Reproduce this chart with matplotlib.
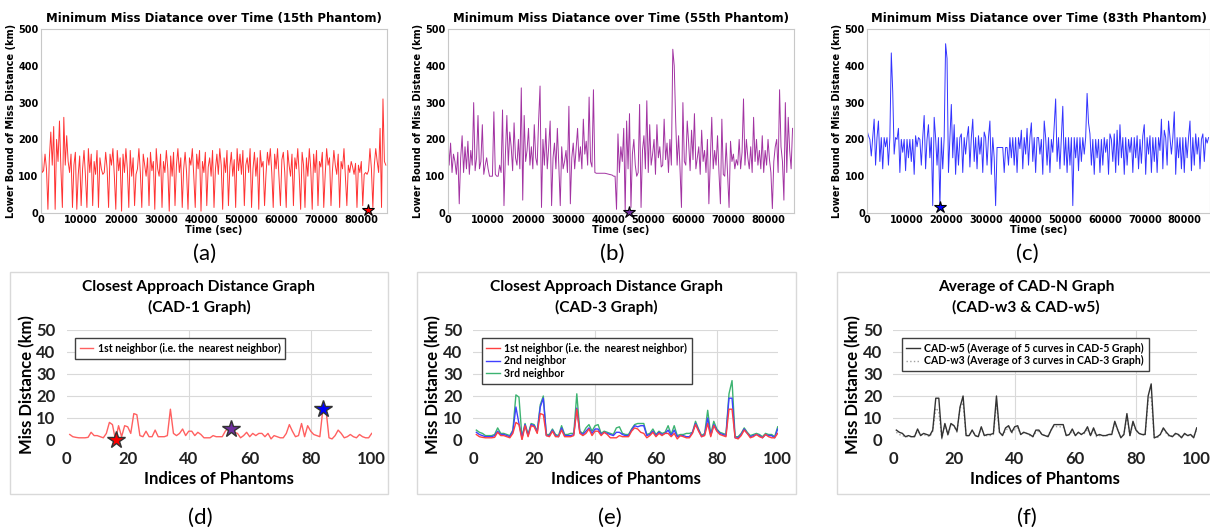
import numpy as np
import matplotlib.pyplot as plt
from matplotlib.patches import Rectangle

# ---- top row: minimum miss distance over time (one sample every 360 s) ----
TIME_STEP = 360

PHANTOM_15 = [
    250, 110, 115, 160, 120, 10, 150, 220, 130, 235, 10, 200, 140, 250, 120, 15, 260, 130, 210, 140,
    110, 160, 15, 130, 165, 10, 105, 155, 20, 120, 170, 100, 15, 175, 110, 160, 20, 140, 105, 170,
    15, 150, 120, 105, 110, 165, 120, 15, 160, 130, 175, 100, 10, 170, 115, 150, 5, 160, 110, 175,
    120, 15, 170, 100, 150, 20, 105, 120, 175, 110, 15, 160, 130, 100, 150, 20, 165, 115, 140, 10,
    175, 120, 100, 160, 15, 140, 110, 170, 120, 5, 155, 100, 165, 20, 130, 175, 110, 150, 15, 120,
    165, 110, 10, 150, 130, 175, 100, 15, 160, 120, 170, 5, 140, 110, 165, 20, 125, 150, 100, 170,
    15, 120, 160, 105, 175, 130, 10, 150, 110, 170, 20, 125, 165, 100, 145, 15, 175, 115, 160, 105,
    170, 20, 130, 150, 110, 175, 15, 120, 165, 100, 150, 10, 170, 125, 140, 20, 105, 165, 130, 175,
    110, 15, 160, 120, 175, 100, 20, 145, 165, 110, 15, 170, 130, 100, 160, 20, 150, 120, 175, 105,
    10, 165, 130, 15, 150, 100, 175, 120, 10, 160, 110, 170, 20, 140, 125, 165, 15, 105, 175, 130,
    150, 20, 115, 170, 130, 105, 160, 15, 140, 120, 175, 100, 20, 130, 110, 140, 125, 105, 135, 15,
    130, 110, 140, 20, 105, 110, 105, 115, 175, 120, 15, 130, 175, 140, 110, 230, 15, 310, 140, 130,
]

PHANTOM_55 = [
    235, 130, 190, 110, 160, 140, 105, 165, 25, 150, 210, 110, 180, 120, 195, 105, 170, 130, 300, 115,
    150, 265, 120, 140, 240, 105, 130, 150, 120, 100, 100, 100, 275, 105, 100, 100, 130, 110, 280, 20,
    160, 265, 130, 220, 180, 115, 245, 150, 130, 200, 120, 340, 35, 265, 140, 170, 230, 130, 180, 120,
    240, 150, 130, 250, 345, 15, 200, 130, 230, 120, 180, 250, 20, 150, 190, 120, 230, 130, 20, 180,
    120, 140, 170, 110, 290, 25, 150, 190, 120, 175, 230, 140, 180, 120, 255, 160, 195, 130, 315, 140,
    125, 335, 110, 108, 108, 108, 108, 108, 108, 108, 107, 106, 105, 104, 103, 100, 100, 10, 215, 110,
    180, 140, 230, 5, 250, 120, 270, 15, 160, 200, 130, 100, 110, 295, 15, 170, 210, 120, 305, 110,
    240, 130, 160, 200, 105, 240, 150, 180, 125, 130, 255, 145, 190, 110, 200, 130, 445, 400, 250, 130,
    210, 120, 15, 300, 140, 130, 250, 190, 115, 225, 145, 270, 120, 150, 180, 105, 225, 140, 170, 110,
    200, 25, 140, 260, 120, 170, 130, 210, 110, 25, 255, 105, 100, 190, 105, 15, 195, 140, 160, 120,
    145, 130, 200, 120, 165, 310, 130, 200, 150, 120, 180, 110, 260, 140, 200, 130, 170, 120, 210, 110,
    170, 130, 200, 145, 110, 12, 140, 180, 200, 110, 335, 180, 140, 35, 300, 110, 260, 170, 120, 230,
]

PHANTOM_83 = [
    225, 210, 200, 155, 205, 255, 130, 205, 250, 140, 205, 120, 205, 180, 205, 130, 205, 435, 330, 160,
    205, 200, 230, 110, 200, 165, 200, 115, 200, 150, 200, 140, 200, 105, 210, 180, 205, 200, 130, 205,
    265, 120, 200, 240, 150, 205, 20, 260, 205, 130, 205, 17, 205, 120, 205, 460, 420, 110, 200, 295,
    150, 240, 105, 205, 130, 205, 215, 110, 205, 160, 205, 235, 125, 205, 255, 140, 205, 120, 210, 160,
    205, 110, 220, 205, 130, 205, 250, 105, 205, 150, 20, 178, 178, 178, 178, 178, 110, 178, 178, 130,
    205, 150, 205, 130, 205, 110, 205, 175, 225, 120, 205, 160, 230, 130, 205, 245, 140, 205, 110, 205,
    205, 160, 200, 105, 250, 205, 130, 205, 110, 200, 165, 240, 310, 140, 205, 120, 205, 290, 130, 205,
    110, 205, 130, 205, 20, 205, 150, 205, 115, 205, 140, 205, 160, 205, 325, 245, 215, 130, 200, 105,
    200, 150, 200, 110, 200, 130, 205, 165, 200, 105, 215, 200, 140, 215, 110, 225, 130, 240, 150, 205,
    105, 205, 130, 200, 165, 205, 110, 205, 150, 210, 120, 200, 135, 210, 240, 105, 205, 160, 210, 110,
    205, 140, 205, 110, 205, 170, 255, 120, 225, 205, 130, 250, 205, 160, 205, 275, 105, 205, 150, 205,
    120, 205, 110, 205, 150, 205, 250, 115, 205, 130, 215, 160, 205, 120, 200, 215, 140, 205, 190, 205,
]

TOP_TITLES = ['Minimum Miss Diatance over Time (15th Phantom)',
              'Minimum Miss Diatance over Time (55th Phantom)',
              'Minimum Miss Diatance over Time (83th Phantom)']
TOP_COLORS = ['#ff0000', '#8b008b', '#0000ff']
STAR_COLORS = ['#ff0000', '#7030a0', '#0000ff']
STAR_POINTS = [(81500, 8), (45300, 3), (18500, 17)]

# ---- bottom row: closest approach distance graphs ----
PHANTOM_IDX = list(range(1, 101))

CAD1 = [2.5, 1.5, 1.2, 1.0, 1.0, 1.0, 1.2, 3.5, 2.0, 2.0,
        1.5, 1.0, 3.0, 8.0, 7.0, 0.0, 6.5, 1.5, 6.5, 6.0,
        3.0, 12.0, 11.5, 2.0, 1.5, 4.0, 1.5, 1.5, 4.5, 1.5,
        1.5, 1.5, 2.0, 14.0, 3.0, 2.0, 3.0, 5.0, 2.0, 4.0,
        4.0, 2.0, 3.5, 2.5, 1.0, 1.0, 1.0, 2.0, 1.5, 1.5,
        1.5, 4.0, 5.5, 5.0, 3.5, 3.0, 1.0, 2.0, 3.5, 1.5,
        3.0, 2.0, 3.0, 3.0, 1.5, 3.0, 0.5, 2.0, 1.5, 1.0,
        1.0, 3.0, 7.0, 4.0, 1.5, 2.0, 7.5, 1.5, 6.5, 4.0,
        2.5, 2.0, 1.5, 14.0, 14.0, 1.0, 0.5, 2.0, 4.5, 3.0,
        1.0, 1.5, 2.5, 1.5, 1.0, 2.5, 1.5, 1.0, 1.0, 3.0]

CAD2 = [3.5, 2.5, 2.0, 1.5, 1.5, 1.5, 2.0, 4.0, 2.5, 2.5,
        2.0, 1.5, 4.0, 15.0, 7.5, 1.0, 7.0, 2.0, 7.0, 6.5,
        3.5, 15.0, 19.0, 2.0, 2.0, 4.5, 2.0, 1.5, 5.5, 2.0,
        2.0, 2.0, 2.5, 14.5, 3.5, 2.5, 4.0, 5.5, 3.0, 5.0,
        5.0, 2.5, 3.5, 3.0, 2.5, 2.0, 3.5, 3.5, 2.5, 2.0,
        2.0, 4.5, 6.5, 6.0, 6.5, 6.5, 2.0, 2.5, 4.0, 2.0,
        3.5, 2.5, 3.0, 4.5, 2.0, 4.5, 1.5, 2.0, 2.0, 1.5,
        1.5, 3.5, 7.5, 4.5, 1.5, 2.5, 10.0, 2.0, 7.0, 4.5,
        3.0, 2.5, 2.0, 19.0, 19.0, 1.0, 1.0, 2.5, 5.0, 3.0,
        1.5, 2.0, 2.5, 2.0, 1.0, 2.5, 2.0, 2.0, 1.0, 5.0]

CAD3 = [4.5, 3.5, 3.0, 2.0, 2.0, 2.0, 2.5, 5.5, 3.0, 3.0,
        2.5, 2.0, 4.5, 20.5, 19.5, 1.0, 7.5, 2.5, 7.5, 7.0,
        4.0, 16.0, 20.0, 2.5, 2.5, 5.0, 2.5, 2.0, 6.5, 2.5,
        2.5, 3.0, 3.0, 21.0, 4.0, 3.0, 5.5, 7.0, 4.0, 6.5,
        7.0, 3.0, 4.0, 3.5, 3.0, 2.5, 5.5, 6.0, 3.0, 2.5,
        2.5, 5.0, 7.0, 7.5, 7.5, 7.5, 2.5, 3.0, 5.0, 2.5,
        4.0, 3.0, 3.5, 6.5, 2.5, 6.5, 2.0, 2.5, 2.5, 3.0,
        3.0, 3.5, 8.5, 5.0, 2.0, 3.0, 13.5, 2.5, 8.5, 5.0,
        3.5, 3.0, 2.5, 21.0, 27.0, 1.5, 1.5, 3.0, 5.5, 3.5,
        2.0, 2.5, 3.0, 2.5, 1.5, 3.0, 2.5, 2.5, 1.5, 6.0]

CAD_W5 = [4.5, 3.5, 3.0, 1.5, 2.0, 1.5, 1.5, 5.0, 2.0, 3.0,
          2.5, 2.0, 4.5, 19.0, 19.0, 1.0, 7.5, 2.5, 7.5, 6.5,
          4.0, 15.0, 20.0, 2.0, 2.0, 4.5, 2.0, 1.5, 6.0, 2.0,
          2.5, 2.5, 3.0, 20.0, 3.5, 2.0, 5.5, 6.5, 3.5, 6.0,
          6.5, 2.5, 3.5, 3.0, 2.5, 1.5, 4.5, 4.5, 2.5, 2.0,
          1.5, 4.5, 7.0, 7.0, 7.0, 7.0, 2.0, 2.5, 5.0, 2.0,
          3.5, 2.5, 3.5, 6.0, 2.0, 5.5, 2.0, 2.5, 2.0, 2.0,
          2.5, 2.5, 8.5, 4.5, 1.0, 2.5, 12.0, 2.0, 8.5, 4.5,
          3.0, 2.5, 2.5, 20.0, 25.5, 1.0, 1.5, 2.5, 5.5, 3.5,
          2.0, 1.5, 3.0, 2.5, 1.0, 3.0, 2.0, 2.5, 1.0, 5.5]

CAD_W3 = [3.5, 2.5, 2.0, 1.5, 1.5, 1.5, 2.0, 4.0, 2.5, 2.5,
          2.0, 1.5, 4.0, 14.5, 13.0, 0.5, 7.0, 2.0, 7.0, 6.5,
          3.5, 14.5, 17.0, 2.0, 2.0, 4.5, 2.0, 1.5, 5.5, 2.0,
          2.0, 2.0, 2.5, 16.5, 3.5, 2.5, 4.0, 6.0, 3.0, 5.0,
          5.5, 2.5, 3.5, 3.0, 2.0, 1.5, 3.5, 4.0, 2.5, 2.0,
          2.0, 4.5, 6.5, 6.0, 6.0, 6.0, 2.0, 2.5, 4.0, 2.0,
          3.5, 2.5, 3.0, 5.0, 2.0, 4.5, 1.5, 2.0, 2.0, 2.0,
          2.0, 3.5, 7.5, 4.5, 1.5, 2.5, 10.5, 2.0, 7.5, 4.5,
          3.0, 2.5, 2.0, 18.0, 20.0, 1.0, 1.0, 2.5, 5.0, 3.0,
          1.5, 2.0, 2.5, 2.0, 1.5, 2.5, 2.0, 2.0, 1.5, 5.0]

STAR_IDX = [16, 54, 84]
STAR_VAL = [0.0, 5.0, 14.0]

W, H = 1210, 532
fig = plt.figure(figsize=(W / 100, H / 100), dpi=100)
fig.patch.set_facecolor('white')


def px_axes(left, top, right, bottom):
    return fig.add_axes([left / W, 1 - bottom / H, (right - left) / W, (bottom - top) / H])


# ---------------- top row ----------------
top_boxes = [(40.7, 29, 387.3, 213), (447.7, 29, 794, 213), (867, 29, 1210, 213)]
series = [PHANTOM_15, PHANTOM_55, PHANTOM_83]
tags_top = ['(a)', '(b)', '(c)']
tag_x_top = [205, 612, 1027]

for i, box in enumerate(top_boxes):
    ax = px_axes(*box)
    vals = np.array(series[i])
    t = np.arange(len(vals)) * TIME_STEP
    ax.plot(t, vals, color=TOP_COLORS[i], lw=0.7, alpha=0.8)
    sx, sy = STAR_POINTS[i]
    ax.plot(sx, sy, marker='*', ms=9, mfc=STAR_COLORS[i], mec='black', mew=0.8,
            clip_on=False, zorder=5)
    ax.set_xlim(0, 86400)
    ax.set_ylim(0, 500)
    ax.set_xticks(range(0, 86400, 10000))
    ax.set_yticks(range(0, 501, 100))
    ax.tick_params(length=0, pad=1.5, labelsize=7)
    for lab in ax.get_xticklabels() + ax.get_yticklabels():
        lab.set_fontweight('bold')
    for s in ax.spines.values():
        s.set_color('#c8c8c8')
        s.set_linewidth(0.8)
    ax.set_title(TOP_TITLES[i], fontsize=8.5, fontweight='bold', pad=5)
    ax.set_xlabel('Time (sec)', fontsize=7, fontweight='bold', labelpad=0)
    ax.set_ylabel('Lower Bound of Miss Distance (km)', fontsize=7, fontweight='bold', labelpad=2)
    fig.text(tag_x_top[i] / W, 1 - 254 / H, tags_top[i], ha='center', va='center',
             fontsize=16, family=['Lato', 'DejaVu Sans'])

# ---------------- bottom row ----------------
bfont = ['Lato', 'DejaVu Sans']
frames = [(10, 272, 388, 494), (417, 272, 796, 494), (837, 272, 1215, 494)]
bot_boxes = [(66.7, 330, 371.7, 440), (473.3, 330, 777.7, 440), (893.3, 330, 1196.7, 440)]
bot_titles = ['Closest Approach Distance Graph\n(CAD-1 Graph)',
              'Closest Approach Distance Graph\n(CAD-3 Graph)',
              'Average of CAD-N Graph\n(CAD-w3 & CAD-w5)']
tags_bot = ['(d)', '(e)', '(f)']
tag_x_bot = [200, 610, 1027]
GRID_X = [40, 80]

for i, box in enumerate(bot_boxes):
    fl, ft, fr, fb = frames[i]
    fig.patches.append(Rectangle((fl / W, 1 - fb / H), (fr - fl) / W, (fb - ft) / H,
                                 transform=fig.transFigure, fill=False,
                                 edgecolor='#d9d9d9', lw=1.0))
    fig.text((fl + fr) / 2 / W, 1 - 297.5 / H, bot_titles[i], ha='center', va='center',
             fontsize=11.2, fontweight='bold', family=bfont, linespacing=1.5)
    fig.text(tag_x_bot[i] / W, 1 - 518 / H, tags_bot[i], ha='center', va='center',
             fontsize=16, family=bfont)

    ax = px_axes(*box)
    ax.set_xlim(0, 100)
    ax.set_ylim(0, 50)
    ax.set_xticks(range(0, 101, 20))
    ax.set_yticks(range(0, 51, 10))
    ax.grid(axis='y', color='#d9d9d9', lw=0.8)
    for gx in GRID_X:
        ax.axvline(gx, color='#d9d9d9', lw=0.8, zorder=0)
    ax.set_axisbelow(True)
    for s in ax.spines.values():
        s.set_visible(False)
    ax.tick_params(length=0, pad=8, labelsize=12)
    for lab in ax.get_xticklabels() + ax.get_yticklabels():
        lab.set_fontweight('bold')
        lab.set_family(bfont)
        lab.set_color('#222222')
    ax.set_xlabel('Indices of Phantoms', fontsize=12, fontweight='bold', family=bfont, labelpad=3)
    ax.set_ylabel('Miss Distance (km)', fontsize=12, fontweight='bold', family=bfont, labelpad=1)

    leg_kw = dict(loc='upper left', bbox_to_anchor=(0.01, 0.975), fancybox=False,
                  edgecolor='#404040', framealpha=1, borderpad=0.45, handlelength=1.3,
                  handletextpad=0.4, labelspacing=0.15,
                  prop={'family': bfont, 'weight': 'bold', 'size': 7.6})
    if i == 0:
        ax.plot(PHANTOM_IDX, CAD1, color='#ff6060', lw=1.0,
                label='1st neighbor (i.e. the  nearest neighbor)')
        for j in range(3):
            ax.plot(STAR_IDX[j], STAR_VAL[j], marker='*', ms=13, mfc=STAR_COLORS[j],
                    mec='#333333', mew=1.0, clip_on=False, zorder=5)
        leg = ax.legend(**leg_kw)
    elif i == 1:
        ax.plot(PHANTOM_IDX, CAD3, color='#3cb371', lw=1.0, label='3rd neighbor')
        ax.plot(PHANTOM_IDX, CAD2, color='#4040ff', lw=1.0, label='2nd neighbor')
        ax.plot(PHANTOM_IDX, CAD1, color='#ff4040', lw=1.0,
                label='1st neighbor (i.e. the  nearest neighbor)')
        h, l = ax.get_legend_handles_labels()
        leg = ax.legend(h[::-1], l[::-1], **leg_kw)
    else:
        ax.plot(PHANTOM_IDX, CAD_W3, color='#a0a0a0', lw=1.0, ls=':',
                label='CAD-w3 (Average of 3 curves in CAD-3 Graph)')
        ax.plot(PHANTOM_IDX, CAD_W5, color='#333333', lw=1.0,
                label='CAD-w5 (Average of 5 curves in CAD-5 Graph)')
        h, l = ax.get_legend_handles_labels()
        leg = ax.legend(h[::-1], l[::-1], **leg_kw)
    leg.get_frame().set_linewidth(1.0)

fig.savefig('out.png', dpi=100)
